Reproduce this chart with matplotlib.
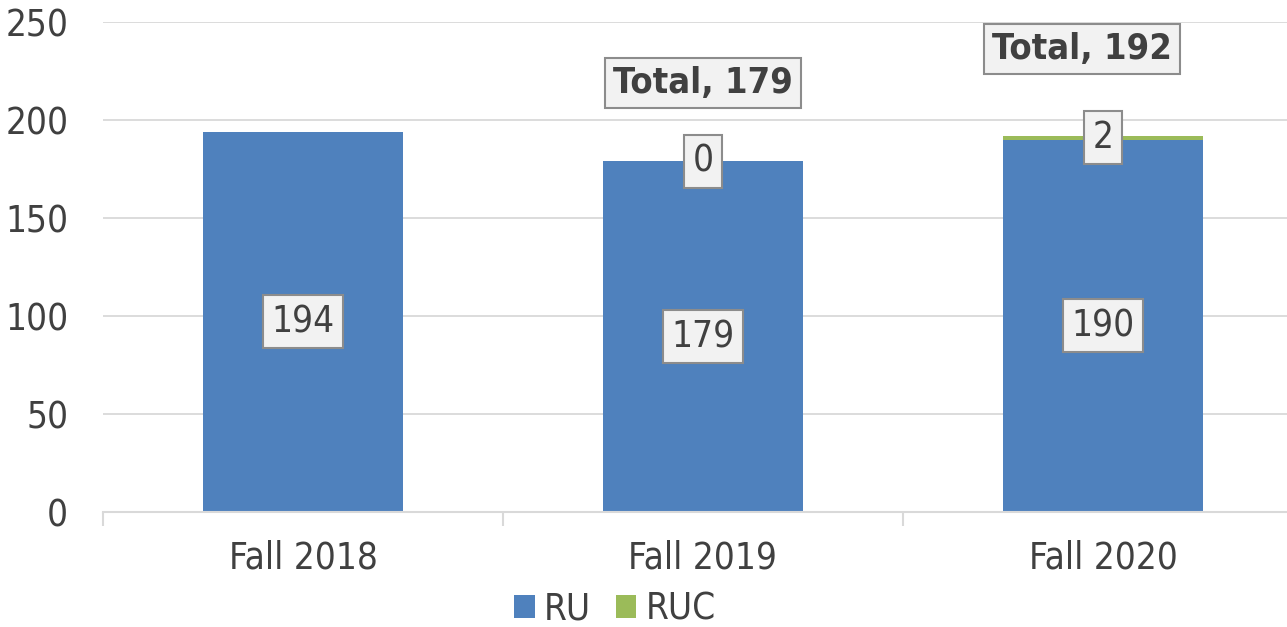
import matplotlib
matplotlib.use("Agg")
import matplotlib.pyplot as plt
from matplotlib import font_manager

categories = ["Fall 2018", "Fall 2019", "Fall 2020"]
ru = [194, 179, 190]
ruc = [0, 0, 2]
ruc_labels = [None, "0", "2"]
total_labels = [None, "Total, 179", "Total, 192"]

# layout of the total call-outs (offset above the stack, horizontal nudge in px)
total_offsets = [0, 40, 44]
total_nudge_px = [0, 0, -21]

# look for a narrow / condensed face
cand = None
for f in font_manager.fontManager.ttflist:
    fn = f.fname.lower()
    if ("narrow" in fn or "condensed" in fn or f.stretch in ("condensed", "semi-condensed", 300)) \
            and f.weight in ("normal", "regular", 400) and f.style == "normal":
        cand = f
        break
if cand is not None:
    FAM = cand.name
    STRETCH = cand.stretch
else:
    FAM = "DejaVu Sans"
    STRETCH = "normal"
plt.rcParams["font.family"] = [FAM, "DejaVu Sans"]
plt.rcParams["font.stretch"] = STRETCH

BLUE = "#4F81BD"
GREEN = "#9BBB59"
TXT = "#404040"
GRID = "#D9D9D9"
FS = 26.5

fig = plt.figure(figsize=(12.87, 6.27), dpi=100)
ax = fig.add_axes([103/1287, 115/627, 1200/1287, 490/627])

x = list(range(len(categories)))
ax.bar(x, ru, width=0.5, color=BLUE, label="RU", zorder=2)
ax.bar(x, ruc, width=0.5, bottom=ru, color=GREEN, label="RUC", zorder=2)

ax.set_xlim(-0.5, 2.5)
ax.set_ylim(0, 250)
ax.set_yticks(range(0, 251, 50))
ax.yaxis.grid(True, color=GRID, linewidth=1.3, zorder=0)
ax.set_axisbelow(True)
for s in ["top", "right", "left"]:
    ax.spines[s].set_visible(False)
ax.spines["bottom"].set_color(GRID)
ax.spines["bottom"].set_linewidth(1.5)
ax.tick_params(axis="y", length=0, labelsize=FS, labelcolor=TXT, pad=25)
ax.set_xticks(x)
ax.set_xticklabels(categories)
ax.tick_params(axis="x", length=0, labelsize=FS, labelcolor=TXT, pad=20)
ax.set_xticks([-0.5, 0.5, 1.5, 2.5], minor=True)
ax.tick_params(axis="x", which="minor", length=10, width=1.5, color=GRID)

box = dict(boxstyle="square,pad=0.22", facecolor="#F2F2F2", edgecolor="#8C8C8C", linewidth=1.5)
for i in x:
    ax.text(i, ru[i] / 2, str(ru[i]), ha="center", va="center", fontsize=FS,
            color=TXT, bbox=box, zorder=4)
    if ruc_labels[i] is not None:
        ax.text(i, ru[i] + ruc[i] / 2, ruc_labels[i], ha="center", va="center",
                fontsize=FS, color=TXT, bbox=box, zorder=4)
    if total_labels[i] is not None:
        ax.annotate(total_labels[i], xy=(i, ru[i] + ruc[i] + total_offsets[i]),
                    xytext=(total_nudge_px[i] * 72 / 100, 0), textcoords="offset points",
                    ha="center", va="center", fontsize=26, fontweight="bold",
                    color=TXT, bbox=dict(box, pad=0.22), zorder=4)

leg = fig.legend(loc="center", bbox_to_anchor=(615/1287, 1 - 609/627), ncol=2, frameon=False,
                 fontsize=FS, handlelength=0.55, handleheight=0.55, handletextpad=0.25,
                 columnspacing=0.68, labelcolor=TXT)

fig.savefig("out.png", dpi=100)
